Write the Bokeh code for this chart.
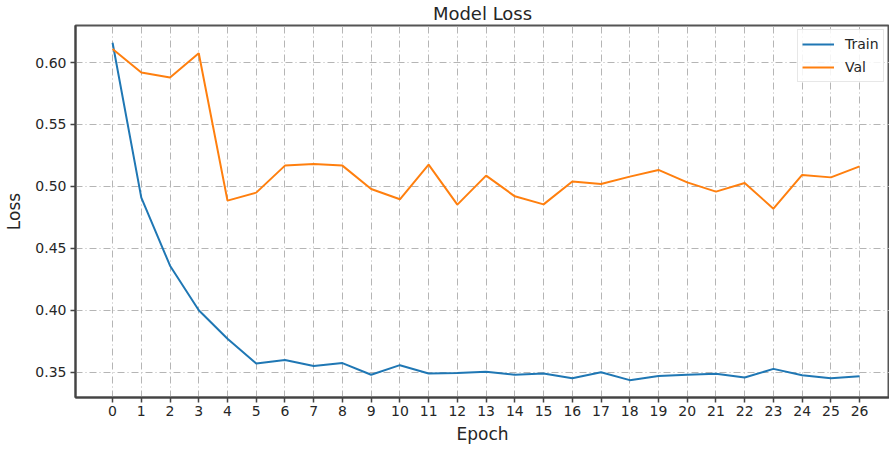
from bokeh.plotting import figure
from bokeh.models import FixedTicker, Legend, LegendItem, Range1d, NumeralTickFormatter
from bokeh.embed import file_html
from bokeh.resources import INLINE

epochs = list(range(27))
train_loss = [0.616, 0.491, 0.436, 0.400, 0.377, 0.357, 0.3598, 0.355, 0.3574, 0.348,
              0.3557, 0.349, 0.3493, 0.3503, 0.348, 0.349, 0.3452, 0.350, 0.3436, 0.347,
              0.348, 0.3487, 0.3457, 0.3527, 0.3476, 0.3452, 0.3468]
val_loss = [0.611, 0.592, 0.588, 0.6075, 0.4885, 0.495, 0.5168, 0.5181, 0.5168, 0.4979,
            0.4896, 0.5176, 0.4853, 0.5087, 0.492, 0.4855, 0.5039, 0.502, 0.5079, 0.5133,
            0.5033, 0.4958, 0.5028, 0.482, 0.5093, 0.5073, 0.5162]
y_ticks = [0.35, 0.40, 0.45, 0.50, 0.55, 0.60]
title_text = "Model Loss"
x_label = "Epoch"
y_label = "Loss"
series_names = ["Train", "Val"]

FONT = "DejaVu Sans"
TXT = "#262626"

p = figure(width=889, height=449, output_backend="svg", toolbar_location=None,
           x_range=Range1d(-1.29, 27.04), y_range=Range1d(0.3296, 0.6299),
           min_border_left=75, min_border_right=0, min_border_top=25, min_border_bottom=52)

p.title.text = title_text
p.title.align = "center"
p.title.vertical_align = "top"
p.title.text_font = FONT
p.title.text_font_size = "18px"
p.title.text_font_style = "normal"
p.title.text_color = TXT
p.title.standoff = 0
p.title.offset = 0

r1 = p.line(epochs, train_loss, line_color="#1f77b4", line_width=2)
r2 = p.line(epochs, val_loss, line_color="#ff7f0e", line_width=2)

p.xaxis.ticker = FixedTicker(ticks=epochs)
p.yaxis.ticker = FixedTicker(ticks=y_ticks)
p.yaxis.formatter = NumeralTickFormatter(format="0.00")
p.xaxis.axis_label = x_label
p.yaxis.axis_label = y_label
for ax in (p.xaxis, p.yaxis):
    ax.axis_label_text_font = FONT
    ax.axis_label_text_font_size = "17px"
    ax.axis_label_text_font_style = "normal"
    ax.axis_label_text_color = TXT
    ax.major_label_text_font = FONT
    ax.major_label_text_font_size = "14px"
    ax.major_label_text_color = TXT
    ax.axis_line_color = "#444444"
    ax.axis_line_width = 2
    ax.major_tick_line_color = "#444444"
    ax.major_tick_line_width = 1.5
    ax.major_tick_in = 0
    ax.major_tick_out = 5
    ax.minor_tick_line_color = None
p.xaxis.major_label_standoff = 3
p.xaxis.axis_label_standoff = 5
p.yaxis.major_label_standoff = 4
p.yaxis.axis_label_standoff = 8

p.outline_line_color = "#555555"
p.outline_line_width = 2

for g in (p.xgrid, p.ygrid):
    g.grid_line_color = "#b5b5b5"
    g.grid_line_width = 1
    g.grid_line_dash = "7 3 1 3"

legend = Legend(items=[LegendItem(label=series_names[0], renderers=[r1]),
                       LegendItem(label=series_names[1], renderers=[r2])],
                location=(722, 315))
legend.label_text_font = FONT
legend.label_text_font_size = "14px"
legend.label_text_color = TXT
legend.glyph_width = 32
legend.glyph_height = 20
legend.label_height = 20
legend.label_standoff = 11
legend.padding = 4
legend.spacing = 3
legend.margin = 0
legend.border_line_color = "#d0d0d0"
legend.border_line_width = 1
legend.background_fill_alpha = 0.85
p.add_layout(legend)

open("out.html", "w").write(file_html(p, INLINE))
